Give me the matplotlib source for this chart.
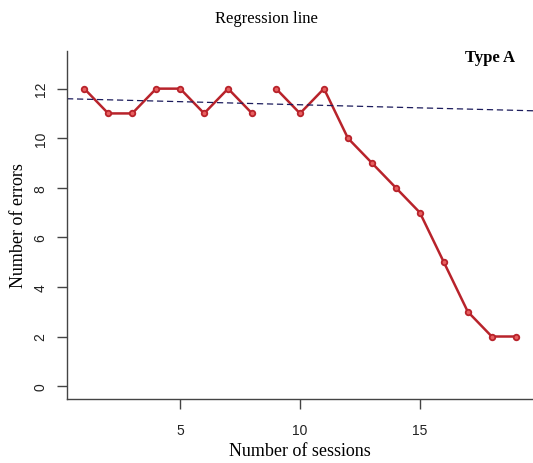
import matplotlib
matplotlib.use("Agg")
import matplotlib.pyplot as plt
import numpy as np

# data
sessions = [1, 2, 3, 4, 5, 6, 7, 8, 9, 10, 11, 12, 13, 14, 15, 16, 17, 18, 19]
errors = [12, 11, 11, 12, 12, 11, 12, 11, 12, 11, 12, 10, 9, 8, 7, 5, 3, 2, 2]
break_after = 8  # line not drawn between session 8 and 9
reg_intercept = 11.6
reg_slope = -0.025

serif = ["Liberation Serif", "DejaVu Serif"]
sans = ["Liberation Sans", "DejaVu Sans"]

fig = plt.figure(figsize=(5.33, 4.64), dpi=100)
ax = fig.add_axes([0.1257, 0.138, 0.8743, 0.75])

x = np.array(sessions)
y = np.array(errors)
red = "#b8232b"
for m in [x <= break_after, x > break_after]:
    ax.plot(x[m], y[m], color=red, linewidth=1.8, marker="o", markersize=4,
            markerfacecolor="#e86060", markeredgecolor=red, markeredgewidth=1.3)

xlim = (0.28, 19.72)
xr = np.array(xlim)
ax.plot(xr, reg_intercept + reg_slope * xr, color="#1c1c5c", linestyle=(0, (5, 3)),
        linewidth=0.9)

ax.set_xlim(*xlim)
ax.set_ylim(-0.52, 13.52)
ax.set_xticks([5, 10, 15])
ax.set_yticks([0, 2, 4, 6, 8, 10, 12])
ax.spines["top"].set_visible(False)
ax.spines["right"].set_visible(False)
for s in ["left", "bottom"]:
    ax.spines[s].set_color("#444444")
    ax.spines[s].set_linewidth(1.0)
ax.tick_params(length=7, width=1.0, color="#444444", labelsize=10, labelcolor="#222222")
ax.tick_params(axis="y", pad=7)
ax.tick_params(axis="x", pad=10)
for lab in ax.get_yticklabels():
    lab.set_rotation(90)
    lab.set_va("center")
    lab.set_family(sans)
for lab in ax.get_xticklabels():
    lab.set_family(sans)

ax.set_xlabel("Number of sessions", family=serif, fontsize=13, labelpad=4)
ax.set_ylabel("Number of errors", family=serif, fontsize=13, labelpad=5)
fig.text(0.5, 0.96, "Regression line", family=serif, fontsize=12, ha="center", va="center")
ax.text(0.961, 0.983, "Type A", transform=ax.transAxes, family=serif, fontsize=12,
        fontweight="bold", ha="right", va="center")

fig.savefig("out.png", dpi=100)
